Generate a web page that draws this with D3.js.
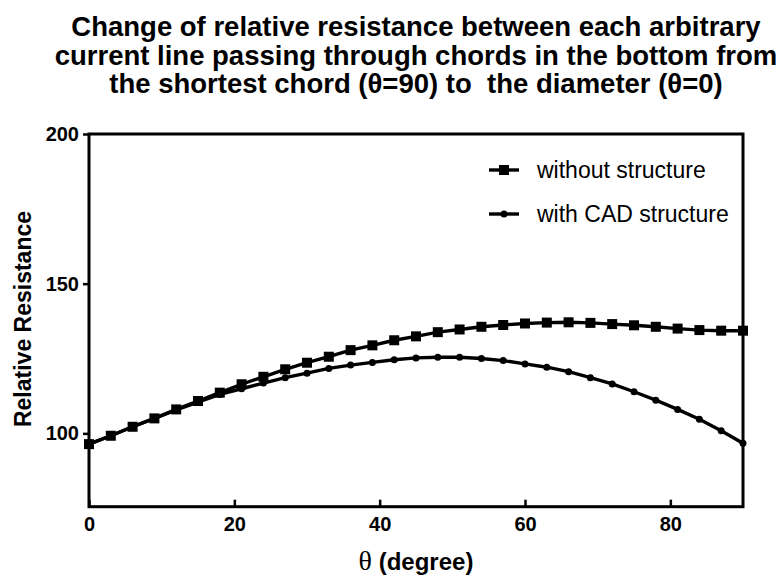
<!DOCTYPE html>
<html>
<head>
<meta charset="utf-8">
<script src="https://cdn.jsdelivr.net/npm/d3@7"></script>
<style>
  html, body { margin: 0; padding: 0; background: #fff; }
  svg { display: block; font-family: "Liberation Sans", Arial, sans-serif; }
</style>
</head>
<body>
<svg id="chart" width="780" height="577"></svg>
<script>
// Angle of the chord (degrees), sampled every 3 degrees
const theta = [0, 3, 6, 9, 12, 15, 18, 21, 24, 27, 30, 33, 36, 39, 42, 45,
               48, 51, 54, 57, 60, 63, 66, 69, 72, 75, 78, 81, 84, 87, 90];

// Relative resistance without structure
const withoutStructure = [96.4, 99.2, 102.2, 105.0, 108.0, 110.8, 113.6, 116.4, 118.9, 121.4,
                          123.6, 125.6, 127.8, 129.4, 131.1, 132.4, 133.8, 134.7, 135.6, 136.2,
                          136.7, 137.0, 137.1, 136.9, 136.5, 136.1, 135.6, 135.0, 134.5, 134.3, 134.3];

// Relative resistance with CAD structure
const withCAD = [96.4, 99.2, 102.2, 105.0, 107.8, 110.4, 113.0, 114.9, 116.8, 118.6,
                 120.1, 121.7, 122.8, 123.7, 124.6, 125.2, 125.4, 125.4, 125.0, 124.3,
                 123.2, 122.1, 120.6, 118.6, 116.5, 113.9, 111.1, 108.0, 104.7, 100.9, 96.7];

const xTicks = [0, 20, 40, 60, 80];
const yTicks = [100, 150, 200];

const titleLines = [
  "Change of relative resistance between each arbitrary",
  "current line passing through chords in the bottom from",
  "the shortest chord (\u03B8=90) to  the diameter (\u03B8=0)"
];

const svg = d3.select("#chart");
const plot = { left: 89, right: 743, top: 134, bottom: 506.7 };

const x = d3.scaleLinear().domain([0, 90]).range([plot.left, plot.right]);
const y = d3.scaleLinear().domain([75.5, 200]).range([plot.bottom, plot.top]);

// Title
const cx = (plot.left + plot.right) / 2;
svg.append("text")
  .attr("x", cx).attr("y", 36)
  .attr("text-anchor", "middle")
  .attr("xml:space", "preserve")
  .style("white-space", "pre")
  .style("font-size", "27.5px").style("font-weight", "bold")
  .selectAll("tspan").data(titleLines).join("tspan")
  .attr("x", cx)
  .attr("dy", (d, i) => i === 0 ? 0 : 28.7)
  .text(d => d);

// Axes
const xAxis = d3.axisBottom(x).tickValues(xTicks).tickSizeInner(-7).tickSizeOuter(0).tickPadding(10);
const yAxis = d3.axisLeft(y).tickValues(yTicks).tickSizeInner(6).tickSizeOuter(0).tickPadding(4);

const gx = svg.append("g").attr("transform", `translate(0,${plot.bottom})`).call(xAxis);
const gy = svg.append("g").attr("transform", `translate(${plot.left},0)`).call(yAxis);
[gx, gy].forEach(g => {
  g.select(".domain").remove();
  g.selectAll(".tick line").attr("stroke", "#000").attr("stroke-width", 2.5);
  g.selectAll(".tick text")
    .attr("fill", "#000")
    .style("font-family", "'Liberation Sans', Arial, sans-serif")
    .style("font-size", "20px").style("font-weight", "bold");
});

// Frame around the plot area
svg.append("rect")
  .attr("x", plot.left).attr("y", plot.top)
  .attr("width", plot.right - plot.left).attr("height", plot.bottom - plot.top)
  .attr("fill", "none").attr("stroke", "#000").attr("stroke-width", 3);

// Axis titles
svg.append("text")
  .attr("transform", "translate(23,319) rotate(-90)")
  .attr("text-anchor", "middle").attr("dominant-baseline", "central")
  .style("font-size", "23px").style("font-weight", "bold")
  .text("Relative Resistance");

const xt = svg.append("text")
  .attr("x", cx).attr("y", 570)
  .attr("text-anchor", "middle")
  .style("font-size", "24px");
xt.append("tspan").style("font-family", "'Liberation Serif', serif").style("font-size", "28px").text("\u03B8");
xt.append("tspan").style("font-weight", "bold").text(" (degree)");

// Series
const series = [
  { name: "without structure", values: withoutStructure, marker: "square" },
  { name: "with CAD structure", values: withCAD, marker: "circle" }
];

const line = d3.line().x(d => x(d[0])).y(d => y(d[1]));

function drawMarker(sel, type) {
  if (type === "square") {
    sel.append("rect").attr("x", -5).attr("y", -5).attr("width", 10).attr("height", 10).attr("fill", "#000");
  } else {
    sel.append("circle").attr("r", 3.5).attr("fill", "#000");
  }
}

series.forEach(s => {
  const pts = theta.map((t, i) => [t, s.values[i]]);
  svg.append("path").datum(pts)
    .attr("d", line).attr("fill", "none")
    .attr("stroke", "#000").attr("stroke-width", 3.4);
  svg.append("g").selectAll("g").data(pts).join("g")
    .attr("transform", d => `translate(${x(d[0])},${y(d[1])})`)
    .each(function () { drawMarker(d3.select(this), s.marker); });
});

// Legend
const legend = svg.append("g");
series.forEach((s, i) => {
  const ly = 170 + i * 44;
  const g = legend.append("g").attr("transform", `translate(489,${ly})`);
  g.append("line").attr("x1", 0).attr("x2", 30).attr("y1", 0).attr("y2", 0)
    .attr("stroke", "#000").attr("stroke-width", 3.4);
  const m = g.append("g").attr("transform", "translate(15,0)");
  drawMarker(m, s.marker);
  g.append("text").attr("x", 48).attr("y", 0)
    .attr("dominant-baseline", "central")
    .style("font-size", "23px")
    .text(s.name);
});
</script>
</body>
</html>
